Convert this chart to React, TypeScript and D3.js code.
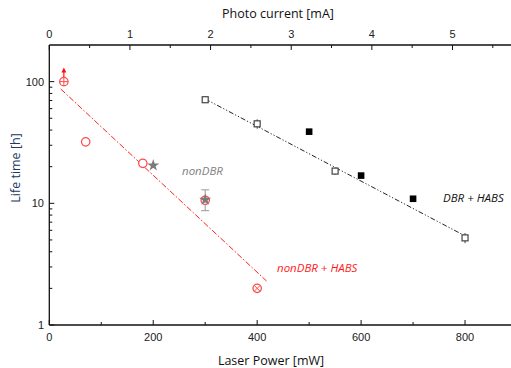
import React, { useEffect, useRef } from "react";
import * as d3 from "d3";

// nonDBR + HABS (red open circles)
const redPower = [28, 70, 180, 300, 400];
const redLife = [100, 32, 21.3, 10.6, 2];
const redErr = [0, 2.5, 0.8, 0, 0];
// nonDBR (gray stars)
const grayPower = [200, 300];
const grayLife = [20.5, 10.7];
const grayErrLo = [20.5, 8.7];
const grayErrHi = [20.5, 12.9];
// DBR + HABS
const openPower = [300, 400, 550, 800];
const openLife = [71, 45, 18.4, 5.2];
const openErr = [0, 4, 1.2, 0.5];
const solidPower = [500, 600, 700];
const solidLife = [38.8, 16.9, 10.9];
// fit lines
const redFitPower = [22, 418];
const redFitLife = [87, 2.3];
const blackFitPower = [300, 800];
const blackFitLife = [72, 5.4];

const xTicks = [0, 200, 400, 600, 800];
const xMinor = [100, 300, 500, 700];
const topTicks = [0, 1, 2, 3, 4, 5];
const topMinor = [0.5, 1.5, 2.5, 3.5, 4.5, 5.5];
const yTicks = [1, 10, 100];

function App() {
  const ref = useRef<SVGSVGElement>(null);

  useEffect(() => {
    if (!ref.current) return;
    const svg = d3.select(ref.current);
    svg.selectAll("*").remove();

    const left = 49.3, right = 517, top = 45, bottom = 325;
    const x = d3.scaleLinear().domain([0, 900]).range([left, right]);
    const xTop = d3.scaleLinear().domain([0, 5.8]).range([left, right]);
    const y = d3.scaleLog().domain([1, 200]).range([bottom, top]);

    const font = "'Open Sans', sans-serif";
    const numFont = "'Liberation Sans', Arial, sans-serif";

    const yMinor: number[] = [];
    [1, 10, 100].forEach((d) => {
      for (let k = 2; k <= 9; k++) if (d * k < 200) yMinor.push(d * k);
    });

    // frame lines
    const ax = svg.append("g").attr("stroke", "#111").attr("stroke-width", 1.3);
    ax.append("line").attr("x1", left).attr("x2", right).attr("y1", bottom).attr("y2", bottom);
    ax.append("line").attr("x1", left).attr("x2", right).attr("y1", top).attr("y2", top);
    ax.append("line").attr("x1", left).attr("x2", left).attr("y1", top).attr("y2", bottom);

    const tk = svg.append("g").attr("stroke", "#111").attr("stroke-width", 1);
    xTicks.forEach((d) => tk.append("line").attr("x1", x(d)).attr("x2", x(d)).attr("y1", bottom).attr("y2", bottom - 5));
    xMinor.forEach((d) => tk.append("line").attr("x1", x(d)).attr("x2", x(d)).attr("y1", bottom).attr("y2", bottom - 3));
    topTicks.forEach((d) => tk.append("line").attr("x1", xTop(d)).attr("x2", xTop(d)).attr("y1", top).attr("y2", top + 5));
    topMinor.forEach((d) => tk.append("line").attr("x1", xTop(d)).attr("x2", xTop(d)).attr("y1", top).attr("y2", top + 3));
    yTicks.forEach((d) => tk.append("line").attr("x1", left).attr("x2", left + 5).attr("y1", y(d)).attr("y2", y(d)));
    yMinor.forEach((d) => tk.append("line").attr("x1", left).attr("x2", left + 3).attr("y1", y(d)).attr("y2", y(d)));

    const lbl = svg.append("g").attr("font-family", numFont).attr("font-size", 11).attr("fill", "#222");
    xTicks.forEach((d) => lbl.append("text").attr("x", x(d)).attr("y", 341).attr("text-anchor", "middle").text(d));
    topTicks.forEach((d) => lbl.append("text").attr("x", xTop(d)).attr("y", 38).attr("text-anchor", "middle").text(d));
    yTicks.forEach((d) => lbl.append("text").attr("x", 44).attr("y", y(d) + 4).attr("text-anchor", "end").text(d));

    svg.append("text").attr("x", 278).attr("y", 18).attr("text-anchor", "middle")
      .attr("font-family", font).attr("font-size", 12.5).attr("fill", "#111").text("Photo current [mA]");
    svg.append("text").attr("x", 271).attr("y", 365).attr("text-anchor", "middle")
      .attr("font-family", font).attr("font-size", 12.5).attr("fill", "#111").text("Laser Power [mW]");
    svg.append("text").attr("transform", `translate(20,168) rotate(-90)`).attr("text-anchor", "middle")
      .attr("font-family", font).attr("font-size", 12.5).attr("fill", "#203864").text("Life time [h]");

    const line = d3.line<[number, number]>().x((d) => x(d[0])).y((d) => y(d[1]));

    // fit lines
    svg.append("path").datum(redFitPower.map((p, i) => [p, redFitLife[i]] as [number, number]))
      .attr("d", line).attr("stroke", "#ff2020").attr("stroke-width", 1).attr("fill", "none")
      .attr("stroke-dasharray", "6,2,1.5,2");
    svg.append("path").datum(blackFitPower.map((p, i) => [p, blackFitLife[i]] as [number, number]))
      .attr("d", line).attr("stroke", "#222").attr("stroke-width", 1).attr("fill", "none")
      .attr("stroke-dasharray", "5,2,1.2,2,1.2,2");

    const red = "#ff4a4a";

    // red error bars
    redPower.forEach((p, i) => {
      if (!redErr[i]) return;
      svg.append("line").attr("x1", x(p)).attr("x2", x(p)).attr("y1", y(redLife[i] - redErr[i])).attr("y2", y(redLife[i] + redErr[i]))
        .attr("stroke", red).attr("stroke-width", 1);
    });
    // arrow on first point
    const ay = y(128);
    svg.append("line").attr("x1", x(redPower[0])).attr("x2", x(redPower[0])).attr("y1", y(redLife[0])).attr("y2", ay + 3)
      .attr("stroke", "#ff1010").attr("stroke-width", 1.2);
    svg.append("path").attr("d", `M${x(redPower[0]) - 2.5},${ay + 4} L${x(redPower[0])},${ay - 1} L${x(redPower[0]) + 2.5},${ay + 4} Z`)
      .attr("fill", "#ff1010");

    // gray error bars
    grayPower.forEach((p, i) => {
      if (grayErrHi[i] === grayErrLo[i]) return;
      const g = svg.append("g").attr("stroke", "#999").attr("stroke-width", 1);
      g.append("line").attr("x1", x(p)).attr("x2", x(p)).attr("y1", y(grayErrLo[i])).attr("y2", y(grayErrHi[i]));
      g.append("line").attr("x1", x(p) - 4).attr("x2", x(p) + 4).attr("y1", y(grayErrLo[i])).attr("y2", y(grayErrLo[i]));
      g.append("line").attr("x1", x(p) - 4).attr("x2", x(p) + 4).attr("y1", y(grayErrHi[i])).attr("y2", y(grayErrHi[i]));
    });

    // red circles
    redPower.forEach((p, i) => {
      const cx = x(p), cy = y(redLife[i]);
      svg.append("circle").attr("cx", cx).attr("cy", cy).attr("r", 4.2).attr("fill", "white")
        .attr("stroke", red).attr("stroke-width", 1.3);
      if (i === 0) {
        svg.append("line").attr("x1", cx - 4).attr("x2", cx + 4).attr("y1", cy).attr("y2", cy).attr("stroke", red);
        svg.append("line").attr("x1", cx).attr("x2", cx).attr("y1", cy - 4).attr("y2", cy + 4).attr("stroke", red);
      }
      if (i === 4) {
        svg.append("path").attr("d", `M${cx - 2.8},${cy - 2.8}L${cx + 2.8},${cy + 2.8}M${cx - 2.8},${cy + 2.8}L${cx + 2.8},${cy - 2.8}`)
          .attr("stroke", red).attr("stroke-width", 1);
      }
    });

    // gray stars
    const star = d3.symbol().type(d3.symbolStar).size(45);
    grayPower.forEach((p, i) => {
      svg.append("path").attr("d", star()).attr("transform", `translate(${x(p)},${y(grayLife[i])})`)
        .attr("fill", "#7a7a7a");
    });

    // open squares
    openPower.forEach((p, i) => {
      const cx = x(p), cy = y(openLife[i]);
      if (openErr[i]) {
        svg.append("line").attr("x1", cx).attr("x2", cx).attr("y1", y(openLife[i] - openErr[i])).attr("y2", y(openLife[i] + openErr[i]))
          .attr("stroke", "#444").attr("stroke-width", 1);
      }
      svg.append("rect").attr("x", cx - 3).attr("y", cy - 3).attr("width", 6).attr("height", 6)
        .attr("fill", "white").attr("stroke", "#444").attr("stroke-width", 1.2);
    });
    // solid squares
    solidPower.forEach((p, i) => {
      svg.append("rect").attr("x", x(p) - 3.3).attr("y", y(solidLife[i]) - 3.3).attr("width", 6.6).attr("height", 6.6)
        .attr("fill", "#000");
    });

    // labels
    svg.append("text").attr("x", 182).attr("y", 175).attr("font-family", font).attr("font-style", "italic")
      .attr("font-size", 11.5).attr("fill", "#808080").text("nonDBR");
    svg.append("text").attr("x", 277).attr("y", 272).attr("font-family", font).attr("font-style", "italic")
      .attr("font-size", 11.5).attr("fill", "#ff1a1a").text("nonDBR + HABS");
    svg.append("text").attr("x", 443).attr("y", 202).attr("font-family", font).attr("font-style", "italic")
      .attr("font-size", 11.5).attr("fill", "#111").text("DBR + HABS");
  }, []);

  return (
    <svg ref={ref} width={511} height={368}
      style={{ position: "absolute", left: 0, top: 0, background: "white" }} />
  );
}

export default App;
